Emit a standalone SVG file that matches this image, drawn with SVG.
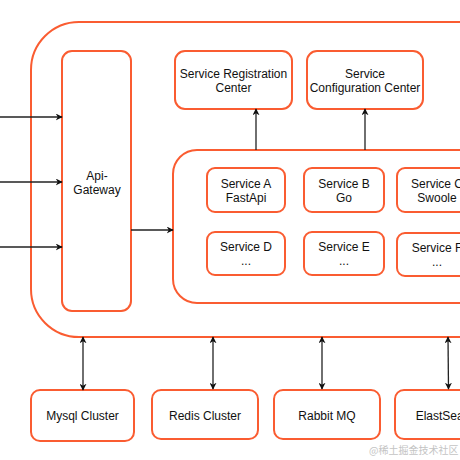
<svg xmlns="http://www.w3.org/2000/svg" width="460" height="460" viewBox="0 0 460 460">
<defs>
<style>
.box{fill:#fff;stroke:#fa5c31;stroke-width:2}
.t{font-family:"Liberation Sans","DejaVu Sans",sans-serif;font-size:12px;fill:#111;text-anchor:middle}
.c{stroke:#222;stroke-width:1.3;fill:none}
.wm{font-family:"Noto Sans CJK SC","Noto Sans",sans-serif;font-size:10px;fill:#c4c4c4}
</style>
<marker id="ah" viewBox="0 0 10 10" refX="9" refY="5" markerWidth="7" markerHeight="7" orient="auto-start-reverse" markerUnits="userSpaceOnUse">
<path d="M0,0 L10,5 L0,10 L3,5 z" fill="#111"/>
</marker>
</defs>
<rect width="460" height="460" fill="#fff"/>
<g id="platform"><rect class="box" x="31" y="22" width="480" height="315" rx="48"/></g>
<g id="api-gateway"><rect class="box" x="62" y="51" width="69" height="260" rx="10"/>
<text class="t" x="97" y="180">Api-</text><text class="t" x="97" y="194">Gateway</text></g>
<g id="registration"><rect class="box" x="175" y="51" width="117" height="58" rx="10"/>
<text class="t" x="233.5" y="78">Service Registration</text><text class="t" x="233.5" y="92">Center</text></g>
<g id="configuration"><rect class="box" x="307" y="51" width="116" height="58" rx="10"/>
<text class="t" x="365" y="78">Service</text><text class="t" x="365" y="92">Configuration Center</text></g>
<g id="services"><rect class="box" x="173" y="150" width="320" height="153" rx="24"/></g>
<g id="service-a"><rect class="box" x="207" y="168" width="78" height="44" rx="8"/>
<text class="t" x="246" y="188">Service A</text><text class="t" x="246" y="202">FastApi</text></g>
<g id="service-b"><rect class="box" x="304" y="168" width="80" height="44" rx="8"/>
<text class="t" x="344" y="188">Service B</text><text class="t" x="344" y="202">Go</text></g>
<g id="service-c"><rect class="box" x="397" y="168" width="80" height="44" rx="8"/>
<text class="t" x="437" y="188">Service C</text><text class="t" x="437" y="202">Swoole</text></g>
<g id="service-d"><rect class="box" x="207" y="232" width="78" height="43" rx="8"/>
<text class="t" x="246" y="251">Service D</text><text class="t" x="246" y="265">...</text></g>
<g id="service-e"><rect class="box" x="304" y="232" width="80" height="43" rx="8"/>
<text class="t" x="344" y="251">Service E</text><text class="t" x="344" y="265">...</text></g>
<g id="service-f"><rect class="box" x="397" y="233" width="80" height="43" rx="8"/>
<text class="t" x="437" y="252">Service F</text><text class="t" x="437" y="266">...</text></g>
<g id="mysql"><rect class="box" x="31" y="390" width="103" height="51" rx="9"/>
<text class="t" x="82.5" y="420">Mysql Cluster</text></g>
<g id="redis"><rect class="box" x="152" y="390" width="106" height="49" rx="9"/>
<text class="t" x="205" y="420">Redis Cluster</text></g>
<g id="rabbitmq"><rect class="box" x="274" y="390" width="106" height="49" rx="9"/>
<text class="t" x="327" y="420">Rabbit MQ</text></g>
<g id="elastsearch"><rect class="box" x="395" y="390" width="106" height="49" rx="9"/>
<text class="t" x="448" y="420">ElastSearch</text></g>
<g id="connectors">
<line class="c" x1="0" y1="117" x2="62" y2="117" marker-end="url(#ah)"/>
<line class="c" x1="0" y1="182" x2="62" y2="182" marker-end="url(#ah)"/>
<line class="c" x1="0" y1="247" x2="62" y2="247" marker-end="url(#ah)"/>
<line class="c" x1="131" y1="230" x2="173" y2="230" marker-end="url(#ah)"/>
<line class="c" x1="256" y1="150" x2="256" y2="109" marker-end="url(#ah)"/>
<line class="c" x1="365" y1="150" x2="365" y2="109" marker-end="url(#ah)"/>
<line class="c" x1="83" y1="337" x2="83" y2="390" marker-start="url(#ah)" marker-end="url(#ah)"/>
<line class="c" x1="213" y1="337" x2="213" y2="389" marker-start="url(#ah)" marker-end="url(#ah)"/>
<line class="c" x1="322" y1="337" x2="322" y2="389" marker-start="url(#ah)" marker-end="url(#ah)"/>
<line class="c" x1="448" y1="337" x2="448.5" y2="389" marker-start="url(#ah)" marker-end="url(#ah)"/>
</g>
<text class="wm" x="369" y="454">@稀土掘金技术社区</text>
</svg>
